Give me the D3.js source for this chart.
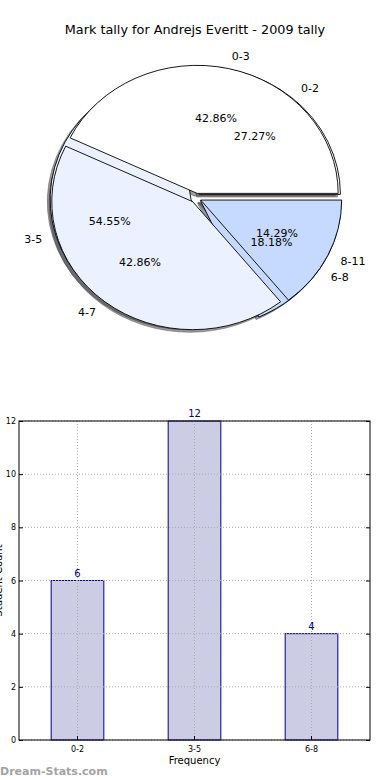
<!DOCTYPE html>
<html>
<head>
<meta charset="utf-8">
<script src="https://cdn.jsdelivr.net/npm/d3@7"></script>
<style>
  body { margin: 0; background: #fff; }
  svg { display: block; font-family: "DejaVu Sans", sans-serif; }
</style>
</head>
<body>
<div id="chart"></div>
<script>
// chart values
var pieLabelsA = ["0-3", "4-7", "8-11"];
var pieValuesA = [3, 3, 1];
var pieLabelsB = ["0-2", "3-5", "6-8"];
var pieValuesB = [6, 12, 4];
var pieColors = ["#ffffff", "#ebf1fe", "#c6d9fe"];

var barCategories = ["0-2", "3-5", "6-8"];
var barValues = [6, 12, 4];
var yTicks = [0, 2, 4, 6, 8, 10, 12];

var svg = d3.select("#chart")
  .append("svg")
    .attr("width", 390)
    .attr("height", 780);

// title
svg.append("text")
  .attr("x", 195)
  .attr("y", 34)
  .attr("text-anchor", "middle")
  .style("font-size", "12.8px")
  .text("Mark tally for Andrejs Everitt - 2009 tally");

// ---- pie (two pies drawn on top of each other, elliptical like the original)
var cx = 196, cy = 198, rx = 141, ry = 128, explode = 0.037;
var arcUnit = d3.arc().innerRadius(0).outerRadius(1);

function layout(values) {
  // matplotlib style: start at east, go counter-clockwise
  return d3.pie().sort(null)
    .startAngle(Math.PI / 2)
    .endAngle(Math.PI / 2 - 2 * Math.PI)(values);
}
function mid(d) { return (d.startAngle + d.endAngle) / 2; }

var slicesB = layout(pieValuesB);
var slicesA = layout(pieValuesA);
var pieG = svg.append("g").attr("transform", "translate(" + cx + "," + cy + ") scale(" + rx + "," + ry + ")");

function shadows(slices) {
  pieG.selectAll(null)
    .data(slices)
    .enter()
    .append("path")
      .attr("d", arcUnit)
      .attr("transform", function(d) {
        var m = mid(d);
        return "translate(" + (explode * Math.sin(m) - 0.02) + "," + (-explode * Math.cos(m) + 0.02) + ")";
      })
      .attr("fill", function(d, i) { return d3.rgb(pieColors[i]).darker(4); })
      .attr("fill-opacity", 0.5)
      .attr("stroke", "#4d4d4d")
      .attr("stroke-opacity", 0.5)
      .attr("vector-effect", "non-scaling-stroke");
}
function wedges(slices) {
  pieG.selectAll(null)
    .data(slices)
    .enter()
    .append("path")
      .attr("d", arcUnit)
      .attr("transform", function(d) {
        var m = mid(d);
        return "translate(" + (explode * Math.sin(m)) + "," + (-explode * Math.cos(m)) + ")";
      })
      .attr("fill", function(d, i) { return pieColors[i]; })
      .attr("stroke", "#000")
      .attr("stroke-width", 0.9)
      .attr("vector-effect", "non-scaling-stroke");
}
function pieTexts(slices, labels) {
  var total = d3.sum(slices, function(d) { return d.value; });
  slices.forEach(function(d, i) {
    var m = mid(d), s = Math.sin(m), c = -Math.cos(m);
    var ox = cx + explode * rx * s, oy = cy + explode * ry * c;
    svg.append("text")
      .attr("x", ox + 1.1 * rx * s)
      .attr("y", oy + 1.1 * ry * c)
      .attr("dy", "0.35em")
      .attr("text-anchor", s > 0 ? "start" : "end")
      .style("font-size", "11px")
      .text(labels[i]);
    svg.append("text")
      .attr("x", ox + 0.6 * rx * s)
      .attr("y", oy + 0.6 * ry * c)
      .attr("dy", "0.35em")
      .attr("text-anchor", "middle")
      .style("font-size", "11px")
      .text((d.value / total * 100).toFixed(2) + "%");
  });
}

shadows(slicesB);
shadows(slicesA);
wedges(slicesB);
wedges(slicesA);
pieTexts(slicesB, pieLabelsB);
pieTexts(slicesA, pieLabelsA);

// ---- bar chart
var plotLeft = 19, plotRight = 370, plotTop = 421, plotBottom = 740;

var x = d3.scaleBand()
  .domain(barCategories)
  .range([plotLeft, plotRight])
  .paddingInner(0.55)
  .paddingOuter(0.275);
var y = d3.scaleLinear()
  .domain([0, 12])
  .range([plotBottom, plotTop]);

var barG = svg.append("g");

// bars
barG.selectAll("myRect")
  .data(barValues)
  .enter()
  .append("rect")
    .attr("x", function(d, i) { return x(barCategories[i]); })
    .attr("y", function(d) { return y(d); })
    .attr("width", x.bandwidth())
    .attr("height", function(d) { return y(0) - y(d); })
    .attr("fill", "#cccde4")
    .attr("stroke", "#000080")
    .attr("stroke-width", 1);

// dotted grid on top of bars
barG.selectAll("hgrid")
  .data(yTicks)
  .enter()
  .append("line")
    .attr("x1", plotLeft).attr("x2", plotRight)
    .attr("y1", function(d) { return y(d); })
    .attr("y2", function(d) { return y(d); })
    .attr("stroke", "#aaaaaa")
    .attr("stroke-dasharray", "1,2");
barG.selectAll("vgrid")
  .data(barCategories)
  .enter()
  .append("line")
    .attr("x1", function(d) { return x(d) + x.bandwidth() / 2; })
    .attr("x2", function(d) { return x(d) + x.bandwidth() / 2; })
    .attr("y1", plotTop).attr("y2", plotBottom)
    .attr("stroke", "#aaaaaa")
    .attr("stroke-dasharray", "1,2");

// frame
barG.append("rect")
  .attr("x", plotLeft).attr("y", plotTop)
  .attr("width", plotRight - plotLeft).attr("height", plotBottom - plotTop)
  .attr("fill", "none")
  .attr("stroke", "#000");

// axes
var yAxis = d3.axisLeft(y).tickValues(yTicks).tickSize(-4).tickPadding(3);
svg.append("g")
  .attr("transform", "translate(" + plotLeft + ",0)")
  .call(yAxis)
  .call(function(g) { g.select(".domain").remove(); })
  .selectAll("text")
    .style("font-size", "8px")
    .attr("fill", "#000")
    .style("font-family", "DejaVu Sans, sans-serif");
svg.append("g")
  .attr("transform", "translate(" + plotRight + ",0)")
  .call(d3.axisRight(y).tickValues(yTicks).tickSize(-4).tickFormat(""))
  .call(function(g) { g.select(".domain").remove(); });

var xAxis = d3.axisBottom(x).tickSize(-4).tickPadding(6);
svg.append("g")
  .attr("transform", "translate(0," + plotBottom + ")")
  .call(xAxis)
  .call(function(g) { g.select(".domain").remove(); })
  .selectAll("text")
    .style("font-size", "8px")
    .attr("fill", "#000")
    .style("font-family", "DejaVu Sans, sans-serif");

// value labels
barG.selectAll("vals")
  .data(barValues)
  .enter()
  .append("text")
    .attr("x", function(d, i) { return x(barCategories[i]) + x.bandwidth() / 2; })
    .attr("y", function(d) { return y(d) - 4; })
    .attr("text-anchor", "middle")
    .attr("fill", "#000080")
    .style("font-size", "10px")
    .text(function(d) { return d; });

// axis titles
svg.append("text")
  .attr("x", (plotLeft + plotRight) / 2)
  .attr("y", 764)
  .attr("text-anchor", "middle")
  .style("font-size", "10px")
  .text("Frequency");
svg.append("text")
  .attr("transform", "translate(2," + ((plotTop + plotBottom) / 2) + ") rotate(-90)")
  .attr("text-anchor", "middle")
  .style("font-size", "10px")
  .text("Student Count");

// watermark
svg.append("text")
  .attr("x", 0)
  .attr("y", 775)
  .attr("fill", "#a3a3a3")
  .style("font-size", "11px")
  .style("font-weight", "bold")
  .text("Dream-Stats.com");
</script>
</body>
</html>
